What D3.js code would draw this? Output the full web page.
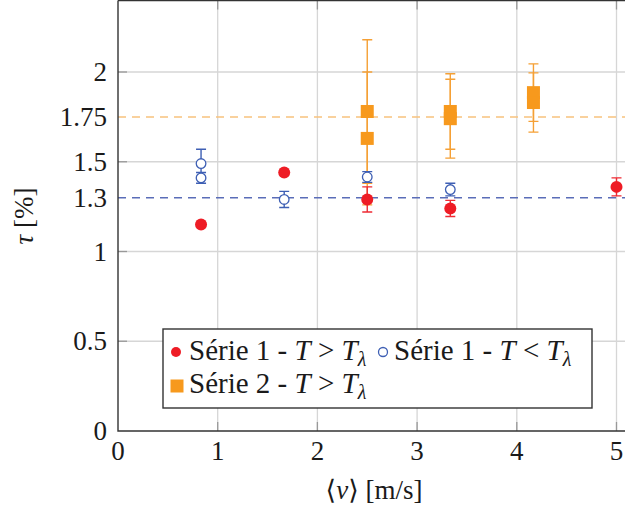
<!DOCTYPE html>
<html><head><meta charset="utf-8">
<script src="https://cdn.jsdelivr.net/npm/d3@7"></script>
<style>body{margin:0;background:#fff}svg{display:block}</style>
</head><body><svg id="c" width="625" height="512" font-family="'Liberation Serif', 'DejaVu Serif', serif"></svg>
<script>
// Data
const s1HotX = [0.833, 1.667, 2.5, 3.333, 5.0];
const s1HotY = [1.15, 1.44, 1.29, 1.24, 1.36];
const s1HotErr = [0, 0, 0.07, 0.045, 0.05];
const s1ColdX = [0.833, 0.833, 1.667, 2.5, 3.333];
const s1ColdY = [1.49, 1.41, 1.29, 1.415, 1.345];
const s1ColdErr = [0.08, 0.03, 0.045, 0.03, 0.035];
const s2X = [2.5, 2.5, 3.333, 3.333, 4.167, 4.167];
const s2Y = [1.78, 1.63, 1.78, 1.74, 1.885, 1.83];
const s2Err = [0.40, 0.37, 0.21, 0.22, 0.16, 0.165];
const refLines = [{v:1.3, c:"#5a6db8"}, {v:1.75, c:"#f8c27e"}];
const xTicks = [0,1,2,3,4,5];
const yGridTicks = [0,0.5,1,1.5,2];
const yTickLabels = [0,0.5,1,1.3,1.5,1.75,2];

const svg = d3.select("#c");
const L = 118, B = 431, T = 0.5;
const x = d3.scaleLinear().domain([0,5.1]).range([L, L + 5.1*99.7]);
const y = d3.scaleLinear().domain([0,2.4]).range([B, B - 2.4*179.5]);
const R = 640;
const TXT = "#1a1a1a";

// grid
const g = svg.append("g");
g.selectAll(".gx").data(xTicks.filter(d=>d>0)).enter().append("line")
 .attr("x1",d=>x(d)).attr("x2",d=>x(d)).attr("y1",T).attr("y2",B)
 .attr("stroke","#d6d6d6").attr("stroke-width",1.3);
g.selectAll(".gy").data(yGridTicks.filter(d=>d>0)).enter().append("line")
 .attr("x1",L).attr("x2",R).attr("y1",d=>y(d)).attr("y2",d=>y(d))
 .attr("stroke","#d6d6d6").attr("stroke-width",1.3);
// tick marks
g.selectAll(".tx").data(xTicks.filter(d=>d>0)).enter().append("path")
 .attr("d",d=>`M${x(d)},${B}v-9M${x(d)},${T}v9`).attr("stroke","#999").attr("stroke-width",1.3);
g.selectAll(".ty").data(yGridTicks.filter(d=>d>0)).enter().append("path")
 .attr("d",d=>`M${L},${y(d)}h9`).attr("stroke","#999").attr("stroke-width",1.3);

// reference dashed lines
g.selectAll(".ref").data(refLines).enter().append("line")
 .attr("x1",L).attr("x2",R).attr("y1",d=>y(d.v)).attr("y2",d=>y(d.v))
 .attr("stroke",d=>d.c).attr("stroke-width",1.5).attr("stroke-dasharray","8,6");

// error bars helper
function errBars(xs, ys, es, color, cap){
  const gg = svg.append("g").attr("stroke",color).attr("stroke-width",1.4).attr("fill","none");
  xs.forEach((xv,i)=>{
    if(!es[i]) return;
    const cx = x(xv), t = y(ys[i]+es[i]), b = y(ys[i]-es[i]);
    gg.append("path").attr("d",`M${cx},${t}V${b}M${cx-cap},${t}h${2*cap}M${cx-cap},${b}h${2*cap}`);
  });
}
// Series 2 (orange squares)
errBars(s2X, s2Y, s2Err, "#f5a035", 5);
svg.append("g").selectAll("rect").data(s2X).enter().append("rect")
 .attr("x",(d)=>x(d)-6.5).attr("y",(d,i)=>y(s2Y[i])-6.5).attr("width",13).attr("height",13)
 .attr("fill","#f7991d");
// Series 1 cold (blue open)
errBars(s1ColdX, s1ColdY, s1ColdErr, "#3e5fb4", 5);
svg.append("g").selectAll("circle").data(s1ColdX).enter().append("circle")
 .attr("cx",d=>x(d)).attr("cy",(d,i)=>y(s1ColdY[i])).attr("r",4.8)
 .attr("fill","#fff").attr("stroke","#3e5fb4").attr("stroke-width",1.3);
// Series 1 hot (red filled)
errBars(s1HotX, s1HotY, s1HotErr, "#ee2a33", 5);
svg.append("g").selectAll("circle").data(s1HotX).enter().append("circle")
 .attr("cx",d=>x(d)).attr("cy",(d,i)=>y(s1HotY[i])).attr("r",6)
 .attr("fill","#ee1c25");

// axes box
svg.append("path").attr("d",`M${L},${T}H${R}M${L},${T}V${B}H${R}`)
 .attr("stroke","#333").attr("stroke-width",1.4).attr("fill","none");

// tick labels
const FS = 27, LFS = 29;
svg.append("g").selectAll("text").data(xTicks).enter().append("text")
 .attr("x",d=>x(d)).attr("y",460).attr("text-anchor","middle").attr("font-size",FS).attr("fill",TXT).text(d=>d);
svg.append("g").selectAll("text").data(yTickLabels).enter().append("text")
 .attr("x",107).attr("y",d=>y(d)+9).attr("text-anchor","end").attr("font-size",FS).attr("fill",TXT).text(d=>d);

// axis labels
const xl = svg.append("text").attr("x",374).attr("y",499).attr("text-anchor","middle").attr("font-size",FS).attr("fill",TXT);
xl.append("tspan").text("⟨");
xl.append("tspan").attr("font-style","italic").text("v");
xl.append("tspan").text("⟩ [m/s]");
const yl = svg.append("text").attr("transform","translate(33,216) rotate(-90)").attr("text-anchor","middle").attr("font-size",FS).attr("fill",TXT);
yl.append("tspan").attr("font-style","italic").text("τ");
yl.append("tspan").text(" [%]");

// legend
const lg = svg.append("g");
lg.append("rect").attr("x",163).attr("y",329).attr("width",429).attr("height",79)
 .attr("fill","#fff").attr("stroke","#333").attr("stroke-width",1.4);
function legText(xp, yp, label, rel){
  const t = lg.append("text").attr("x",xp).attr("y",yp).attr("font-size",LFS).attr("fill",TXT);
  t.append("tspan").text(label + " - ");
  t.append("tspan").attr("font-style","italic").text("T");
  t.append("tspan").text(" " + rel + " ");
  t.append("tspan").attr("font-style","italic").text("T");
  t.append("tspan").attr("font-style","italic").attr("font-size",20).attr("dy",6).text("λ");
}
lg.append("circle").attr("cx",176).attr("cy",352).attr("r",5).attr("fill","#ee1c25");
legText(189, 360, "Série 1", ">");
lg.append("circle").attr("cx",383).attr("cy",352).attr("r",4.5).attr("fill","#fff").attr("stroke","#3e5fb4").attr("stroke-width",1.3);
legText(394, 360, "Série 1", "<");
lg.append("rect").attr("x",170.5).attr("y",379.5).attr("width",13).attr("height",13).attr("fill","#f7991d");
legText(189, 393, "Série 2", ">");
</script></body></html>
